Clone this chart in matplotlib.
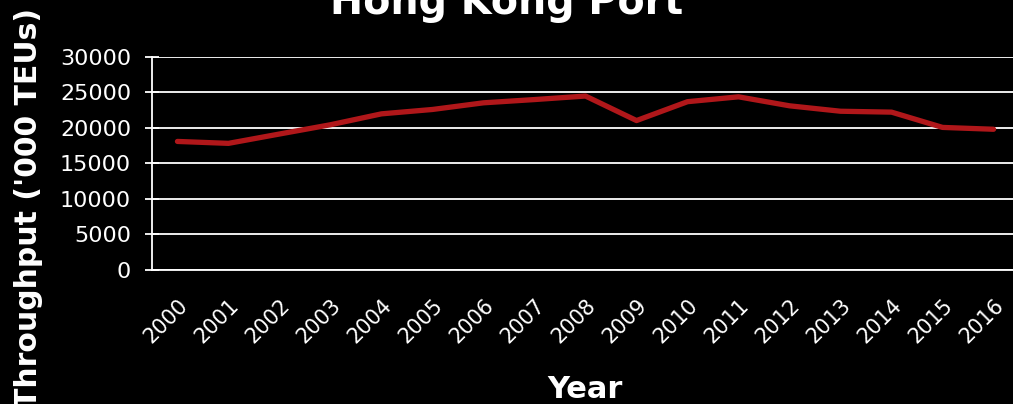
import matplotlib
matplotlib.use("Agg")
import matplotlib.pyplot as plt
import matplotlib.transforms as mtransforms

years = [str(y) for y in range(2000, 2017)]
teus = [18098, 17826, 19144, 20449, 21984, 22602, 23539, 23998, 24494,
        21040, 23699, 24384, 23117, 22352, 22226, 20073, 19813]
yticks = [0, 5000, 10000, 15000, 20000, 25000, 30000]

plt.rcParams['font.family'] = 'DejaVu Sans'

fig = plt.figure(figsize=(10.13, 4.04), dpi=100, facecolor='black')
ax = fig.add_axes([0.150, 0.332, 0.856, 0.527], facecolor='black')

x = list(range(len(years)))
ax.plot(x, teus, color='#b0171a', lw=3.8, solid_capstyle='round',
        solid_joinstyle='round', zorder=3)

ax.set_xlim(-0.5, len(years) - 0.5)
ax.set_ylim(0, 30000)
ax.set_yticks(yticks)
ax.set_yticklabels([str(v) for v in yticks], color='white', fontsize=16)
ax.set_xticks(x)
ax.set_xticklabels(years, rotation=45, ha='right', rotation_mode='anchor',
                   color='white', fontsize=15)
shift = mtransforms.ScaledTranslation(-5 / 100, 0, fig.dpi_scale_trans)
for lab in ax.get_xticklabels():
    lab.set_transform(lab.get_transform() + shift)

ax.grid(axis='y', color='white', lw=1.3, zorder=1)
ax.tick_params(axis='y', direction='inout', length=10, width=1.3,
               color='white', pad=10)
ax.tick_params(axis='x', length=0, pad=18)
for side in ('top', 'right'):
    ax.spines[side].set_visible(False)
for side in ('left', 'bottom'):
    ax.spines[side].set_color('white')
    ax.spines[side].set_linewidth(1.3)

fig.text(0.028, 0.486, "Throughput ('000 TEUs)", color='white', fontsize=21.5,
         fontweight='bold', rotation=90, ha='center', va='center')
fig.text(0.578, 0.015, 'Year', color='white', fontsize=22,
         fontweight='bold', ha='center', va='baseline')
fig.text(0.5, 0.965, 'Hong Kong Port', color='white', fontsize=28.5,
         fontweight='bold', ha='center', va='baseline')

fig.savefig('out.png', dpi=100, facecolor='black')
